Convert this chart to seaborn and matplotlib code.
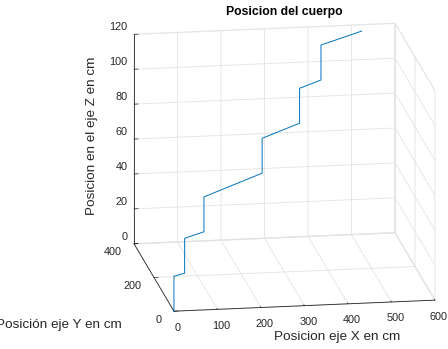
import matplotlib
matplotlib.use("Agg")
import matplotlib.pyplot as plt
from mpl_toolkits.mplot3d import proj3d
import seaborn as sns

# Trajectory of the body (cm)
pos_x = [0, 0, 28, 28, 80, 80, 242, 242, 346, 346, 405, 405, 515]
pos_y = [0, 0, 15, 15, 48, 48, 171, 171, 249, 249, 292, 292, 363]
pos_z = [0, 20, 20, 40, 40, 60, 60, 80, 80, 100, 100, 120, 120]

x_ticks = [0, 100, 200, 300, 400, 500, 600]
y_ticks = [0, 200, 400]
z_ticks = [0, 20, 40, 60, 80, 100, 120]

sns.set_theme(style="white")
plt.rcParams["font.family"] = ["Liberation Sans", "DejaVu Sans"]
line_color = sns.color_palette(["#0072BD"])[0]
text_col = "#262626"
W, H = 448, 349

fig = plt.figure(figsize=(W / 100, H / 100), dpi=100)
ax = fig.add_subplot(projection="3d", proj_type="ortho")
ax.set_position([0.185, 0.033, 0.88, 0.95])

ax.plot(pos_x, pos_y, pos_z, color=line_color, linewidth=0.7)

ax.set_xlim(x_ticks[0], x_ticks[-1])
ax.set_ylim(y_ticks[0], y_ticks[-1])
ax.set_zlim(z_ticks[0], z_ticks[-1])
ax.set_xticks(x_ticks)
ax.set_yticks(y_ticks)
ax.set_zticks(z_ticks)
ax.set_xticklabels([])
ax.set_yticklabels([])
ax.set_zticklabels([])
ax.set_box_aspect((265, 256, 218), zoom=1.25)
ax.view_init(elev=15.5, azim=-99)

grid_col = "#e3e3e3"
for axis in (ax.xaxis, ax.yaxis, ax.zaxis):
    axis.pane.fill = False
    axis.pane.set_edgecolor(grid_col)
    axis.line.set_color(text_col)
    axis.line.set_linewidth(0.6)
    axis._axinfo["grid"]["color"] = grid_col
    axis._axinfo["grid"]["linewidth"] = 0.6
    axis._axinfo["tick"]["inward_factor"] = 0.0
    axis._axinfo["tick"]["outward_factor"] = 0.2
    axis._axinfo["tick"]["linewidth"] = {True: 0.5, False: 0.5}
    axis._axinfo["tick"]["color"] = text_col
ax.grid(True)
ax.set_xlabel("")
ax.set_ylabel("")
ax.set_zlabel("")

# Tick labels, placed next to the projected tick positions
fig.canvas.draw()


def to_fig(x, y, z, dx, dy):
    px, py, _ = proj3d.proj_transform(x, y, z, ax.M)
    sx, sy = ax.transData.transform((px, py))
    return (sx + dx) / W, (sy - dy) / H


tick_kw = dict(fontsize=7.8, color=text_col)
for t in x_ticks:
    fx, fy = to_fig(t, y_ticks[0], z_ticks[0], 4, 16.5)
    fig.text(fx, fy, str(t), ha="center", va="center", **tick_kw)
for t in y_ticks:
    fx, fy = to_fig(x_ticks[0], t, z_ticks[0], -12, 8.5)
    fig.text(fx, fy, str(t), ha="right", va="center", **tick_kw)
for t in z_ticks:
    fx, fy = to_fig(x_ticks[0], y_ticks[-1], t, -6.5, -7)
    fig.text(fx, fy, str(t), ha="right", va="center", **tick_kw)

fig.text(337 / W, 1 - 337 / H, "Posicion eje X en cm", ha="center", va="center",
         fontsize=9.7, color=text_col)
fig.text(122 / W, 1 - 325 / H, "Posición eje Y en cm", ha="right", va="center",
         fontsize=9.7, color=text_col)
fig.text(92 / W, 1 - 136 / H, "Posicion en el eje Z en cm", ha="center", va="center",
         rotation=90, fontsize=9.7, color=text_col)
fig.text(284 / W, 1 - 12 / H, "Posicion del cuerpo", ha="center", va="center",
         fontsize=8.8, fontweight="bold", color="#000000")

fig.savefig("out.png", dpi=100)
